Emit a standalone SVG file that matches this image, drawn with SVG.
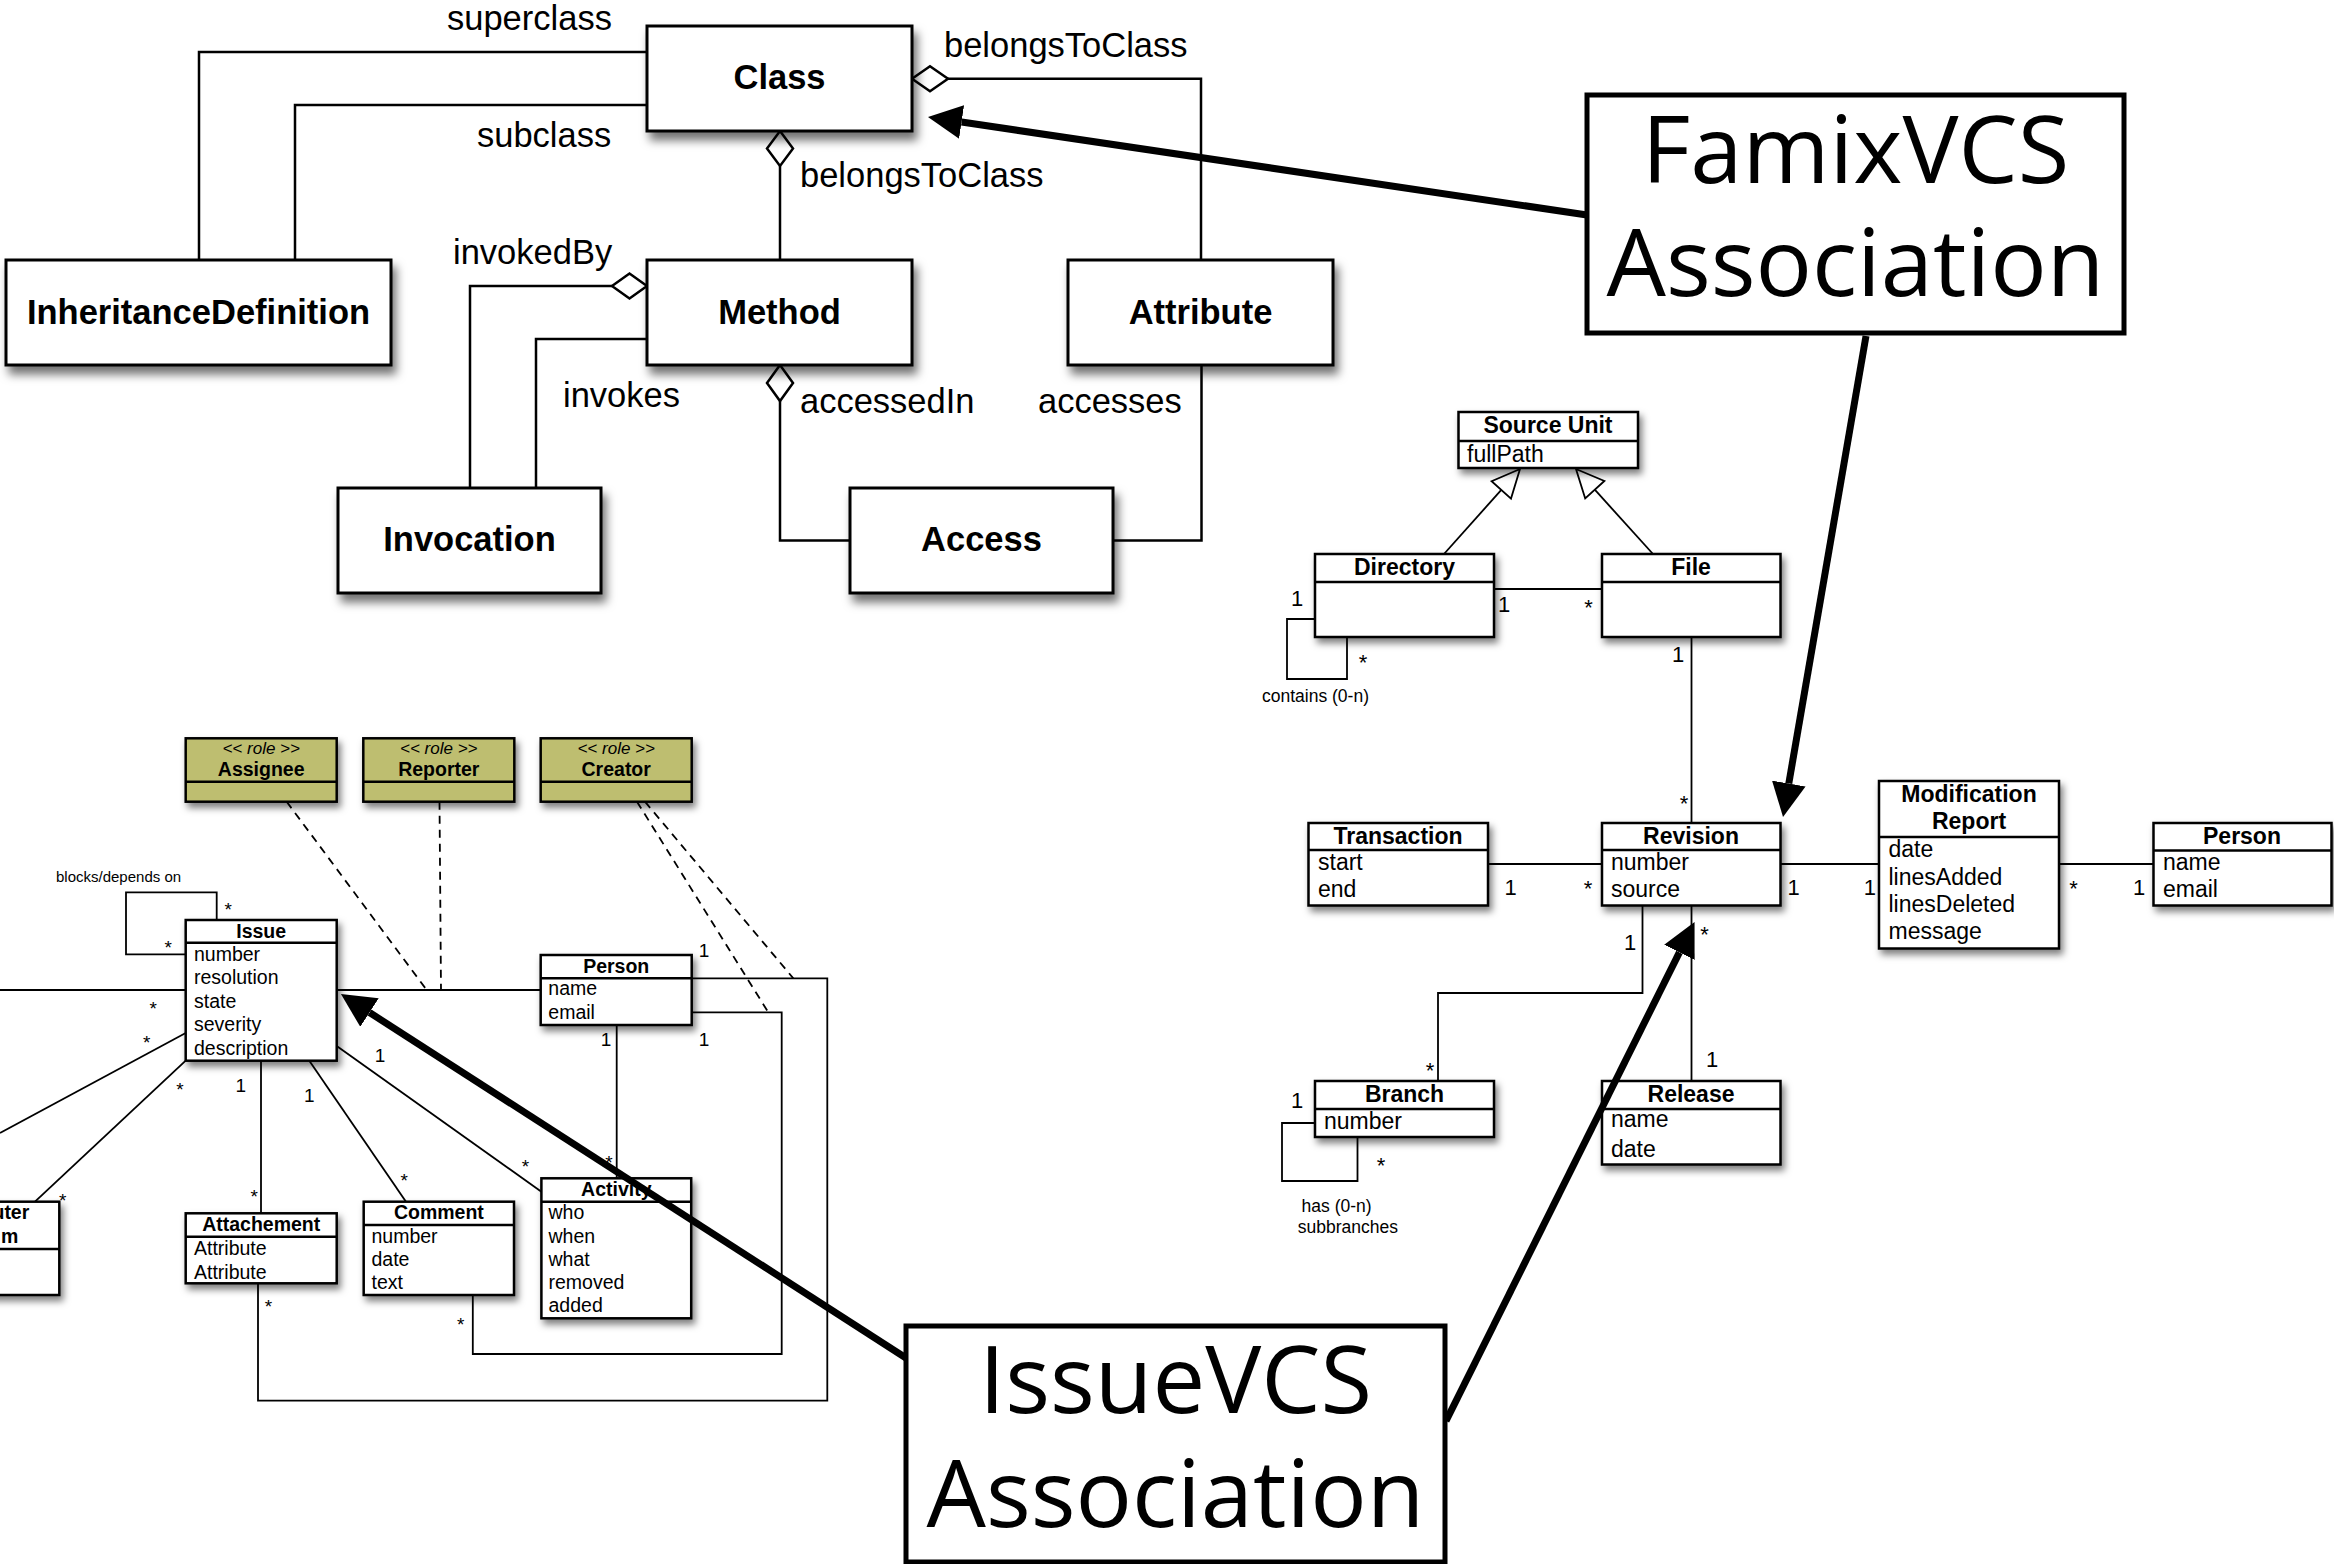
<svg xmlns="http://www.w3.org/2000/svg" width="2334" height="1564" viewBox="0 0 2334 1564">
  <style>
    .big { fill: #fff; stroke: #000; stroke-width: 3; }
    .box { fill: #fff; stroke: #000; stroke-width: 2.5; }
    .role { fill: #bebe70; stroke: #000; stroke-width: 2.5; }
    .div { stroke: #000; stroke-width: 2.5; }
    .frame { fill: #fff; stroke: #000; stroke-width: 5; }
    .conn { fill: none; stroke: #000; stroke-width: 2.5; }
    .thin { fill: none; stroke: #000; stroke-width: 1.8; }
    .dash { fill: none; stroke: #000; stroke-width: 1.8; stroke-dasharray: 8 6; }
    .dia { fill: #fff; stroke: #000; stroke-width: 2.5; }
    .tri { fill: #fff; stroke: #000; stroke-width: 1.8; }
    .thick { fill: none; stroke: #000; stroke-width: 7; }
    text { font-family: "Liberation Sans", Arial, Helvetica, sans-serif; fill: #000; }
    .fname { font-size: 34.5px; font-weight: bold; text-anchor: middle; }
    .flabel { font-size: 34.5px; }
    .rhead { font-size: 23px; font-weight: bold; text-anchor: middle; }
    .rattr { font-size: 23px; }
    .rmul { font-size: 22px; text-anchor: middle; }
    .note { font-size: 17.5px; }
    .lhead { font-size: 19.5px; font-weight: bold; text-anchor: middle; }
    .lattr { font-size: 19.5px; }
    .lmul { font-size: 19px; text-anchor: middle; }
    .stereo { font-size: 17px; font-style: italic; text-anchor: middle; }
    .huge { font-family: "Open Sans", "Noto Sans", sans-serif; font-size: 94px; text-anchor: middle; }
  </style>
  <defs>
    <filter id="shadowBig" x="-10%" y="-20%" width="130%" height="160%">
      <feDropShadow dx="4" dy="8" stdDeviation="5" flood-color="#000" flood-opacity="0.55"/>
    </filter>
    <filter id="shadowSmall" x="-10%" y="-20%" width="130%" height="160%">
      <feDropShadow dx="3" dy="5" stdDeviation="3.5" flood-color="#000" flood-opacity="0.5"/>
    </filter>
    <marker id="bigHead" viewBox="0 0 34 34" refX="0" refY="17" markerWidth="34" markerHeight="34" markerUnits="userSpaceOnUse" orient="auto">
      <path d="M0,0 L34,17 L0,34 Z" fill="#000"/>
    </marker>
  </defs>

  <!-- ===== FAMIX core connectors ===== -->
  <g id="famix-connectors">
    <path class="conn" d="M647,52 H199 V260"/>
    <path class="conn" d="M647,105 H295 V260"/>
    <path class="conn" d="M948,78.7 H1201 V260"/>
    <polygon class="dia" points="912,78.7 930,66.2 948,78.7 930,91.2"/>
    <path class="conn" d="M780,166 V260"/>
    <polygon class="dia" points="780,131 793,148.5 780,166 767,148.5"/>
    <path class="conn" d="M612,286 H470 V488"/>
    <polygon class="dia" points="647,286 629.5,273.5 612,286 629.5,298.5"/>
    <path class="conn" d="M647,339 H536 V488"/>
    <path class="conn" d="M780,401 V540.5 H850"/>
    <polygon class="dia" points="780,365 793,383 780,401 767,383"/>
    <path class="conn" d="M1113,540.5 H1201.5 V365"/>
    <text class="flabel" x="447" y="30">superclass</text>
    <text class="flabel" x="477" y="147">subclass</text>
    <text class="flabel" x="944" y="57">belongsToClass</text>
    <text class="flabel" x="800" y="187">belongsToClass</text>
    <text class="flabel" x="453" y="264">invokedBy</text>
    <text class="flabel" x="563" y="407">invokes</text>
    <text class="flabel" x="800" y="413">accessedIn</text>
    <text class="flabel" x="1038" y="413">accesses</text>
  </g>

  <!-- ===== FAMIX core entities ===== -->
  <g id="class">
    <rect class="big" x="647" y="26" width="265" height="105" filter="url(#shadowBig)"/>
    <text class="fname" x="779.5" y="89">Class</text>
  </g>
  <g id="inheritance-definition">
    <rect class="big" x="6" y="260" width="385" height="105" filter="url(#shadowBig)"/>
    <text class="fname" x="198.5" y="324">InheritanceDefinition</text>
  </g>
  <g id="method">
    <rect class="big" x="647" y="260" width="265" height="105" filter="url(#shadowBig)"/>
    <text class="fname" x="779.5" y="324">Method</text>
  </g>
  <g id="attribute">
    <rect class="big" x="1068" y="260" width="265" height="105" filter="url(#shadowBig)"/>
    <text class="fname" x="1200.5" y="324">Attribute</text>
  </g>
  <g id="invocation">
    <rect class="big" x="338" y="488" width="263" height="105" filter="url(#shadowBig)"/>
    <text class="fname" x="469.5" y="551">Invocation</text>
  </g>
  <g id="access">
    <rect class="big" x="850" y="488" width="263" height="105" filter="url(#shadowBig)"/>
    <text class="fname" x="981.5" y="551">Access</text>
  </g>

  <!-- ===== Version control model connectors ===== -->
  <g id="vcs-connectors">
    <path class="thin" d="M1444,554 L1501.3,489.9"/>
    <polygon class="tri" points="1520,469 1511,498.6 1491.6,481.2"/>
    <path class="thin" d="M1653,554 L1594.8,489.7"/>
    <polygon class="tri" points="1576,469 1604.4,481 1585.2,498.4"/>
    <path class="thin" d="M1494,589 H1602"/>
    <path class="thin" d="M1315,619 H1287 V679 H1347 V637"/>
    <path class="thin" d="M1691.5,637 V823"/>
    <path class="thin" d="M1488,864 H1602"/>
    <path class="thin" d="M1642.5,905 V993 H1438 V1081"/>
    <path class="thin" d="M1315,1123 H1282 V1181 H1357.5 V1137"/>
    <path class="thin" d="M1691.5,905 V1081"/>
    <path class="thin" d="M1780,864 H1879"/>
    <path class="thin" d="M2059,864 H2153.5"/>
    <text class="rmul" x="1504" y="612">1</text>
    <text class="rmul" x="1588.6" y="615">*</text>
    <text class="rmul" x="1297" y="606">1</text>
    <text class="rmul" x="1363" y="670">*</text>
    <text class="note" x="1262" y="702">contains (0-n)</text>
    <text class="rmul" x="1678" y="662">1</text>
    <text class="rmul" x="1684" y="811">*</text>
    <text class="rmul" x="1510.5" y="895">1</text>
    <text class="rmul" x="1588" y="896">*</text>
    <text class="rmul" x="1630" y="950">1</text>
    <text class="rmul" x="1430" y="1078">*</text>
    <text class="rmul" x="1297" y="1108">1</text>
    <text class="rmul" x="1381" y="1173">*</text>
    <text class="note" x="1301.6" y="1212">has (0-n)</text>
    <text class="note" x="1297.7" y="1233">subbranches</text>
    <text class="rmul" x="1704.5" y="942">*</text>
    <text class="rmul" x="1712" y="1067">1</text>
    <text class="rmul" x="1793.7" y="895">1</text>
    <text class="rmul" x="1869.8" y="895">1</text>
    <text class="rmul" x="2073.5" y="896">*</text>
    <text class="rmul" x="2139" y="895">1</text>
  </g>

  <!-- ===== Version control model entities ===== -->
  <g id="source-unit">
    <rect class="box" x="1458.5" y="412" width="179.5" height="56" filter="url(#shadowSmall)"/>
    <line class="div" x1="1458.5" y1="441" x2="1638" y2="441"/>
    <text class="rhead" x="1548" y="433">Source Unit</text>
    <text class="rattr" x="1467" y="462">fullPath</text>
  </g>
  <g id="directory">
    <rect class="box" x="1315" y="554" width="179" height="83" filter="url(#shadowSmall)"/>
    <line class="div" x1="1315" y1="582" x2="1494" y2="582"/>
    <text class="rhead" x="1404.5" y="575">Directory</text>
  </g>
  <g id="file">
    <rect class="box" x="1602" y="554" width="178.5" height="83" filter="url(#shadowSmall)"/>
    <line class="div" x1="1602" y1="582" x2="1780.5" y2="582"/>
    <text class="rhead" x="1691" y="575">File</text>
  </g>
  <g id="transaction">
    <rect class="box" x="1308.5" y="823" width="179.5" height="82.5" filter="url(#shadowSmall)"/>
    <line class="div" x1="1308.5" y1="850" x2="1488" y2="850"/>
    <text class="rhead" x="1398" y="844">Transaction</text>
    <text class="rattr" x="1318" y="870">start</text>
    <text class="rattr" x="1318" y="896.5">end</text>
  </g>
  <g id="revision">
    <rect class="box" x="1602" y="823" width="178.5" height="82.5" filter="url(#shadowSmall)"/>
    <line class="div" x1="1602" y1="850" x2="1780.5" y2="850"/>
    <text class="rhead" x="1691" y="844">Revision</text>
    <text class="rattr" x="1611" y="870">number</text>
    <text class="rattr" x="1611" y="896.5">source</text>
  </g>
  <g id="modification-report">
    <rect class="box" x="1879" y="781" width="180" height="167.5" filter="url(#shadowSmall)"/>
    <line class="div" x1="1879" y1="837" x2="2059" y2="837"/>
    <text class="rhead" x="1969" y="802">Modification</text>
    <text class="rhead" x="1969" y="829">Report</text>
    <text class="rattr" x="1888.5" y="857">date</text>
    <text class="rattr" x="1888.5" y="884.5">linesAdded</text>
    <text class="rattr" x="1888.5" y="912">linesDeleted</text>
    <text class="rattr" x="1888.5" y="939">message</text>
  </g>
  <g id="vcs-person">
    <rect class="box" x="2153.5" y="823" width="178" height="82.5" filter="url(#shadowSmall)"/>
    <line class="div" x1="2153.5" y1="850.5" x2="2331.5" y2="850.5"/>
    <text class="rhead" x="2242" y="844">Person</text>
    <text class="rattr" x="2163" y="870">name</text>
    <text class="rattr" x="2163" y="896.5">email</text>
  </g>
  <g id="branch">
    <rect class="box" x="1315" y="1081" width="179" height="56" filter="url(#shadowSmall)"/>
    <line class="div" x1="1315" y1="1109" x2="1494" y2="1109"/>
    <text class="rhead" x="1404.5" y="1102">Branch</text>
    <text class="rattr" x="1324" y="1129">number</text>
  </g>
  <g id="release">
    <rect class="box" x="1602" y="1081" width="178.5" height="83.5" filter="url(#shadowSmall)"/>
    <line class="div" x1="1602" y1="1109" x2="1780.5" y2="1109"/>
    <text class="rhead" x="1691" y="1102">Release</text>
    <text class="rattr" x="1611" y="1127">name</text>
    <text class="rattr" x="1611" y="1156.5">date</text>
  </g>

  <!-- ===== Issue tracker model connectors ===== -->
  <g id="issue-connectors">
    <path class="thin" d="M216.7,920 V892.3 H126 V954.3 H185.7"/>
    <path class="thin" d="M0,990 H185.7"/>
    <path class="thin" d="M336.7,990 H540.7"/>
    <path class="thin" d="M185.7,1033 L0,1133"/>
    <path class="thin" d="M185.7,1060.7 L35,1201.7"/>
    <path class="thin" d="M261,1060.7 V1213.3"/>
    <path class="thin" d="M309.3,1060.7 L406,1201.7"/>
    <path class="thin" d="M336.7,1046 L541.4,1191.7"/>
    <path class="thin" d="M616.7,1025 V1178.3"/>
    <path class="thin" d="M691.7,978.3 H827.3 V1400.7 H258 V1283.3"/>
    <path class="thin" d="M691.7,1012.3 H781.7 V1354 H472.8 V1295"/>
    <path class="dash" d="M286.7,801.7 L426.7,990"/>
    <path class="dash" d="M439.5,801.7 L441,990"/>
    <path class="dash" d="M637,801.7 L768.3,1012.3"/>
    <path class="dash" d="M645,801.7 L793.3,978.3"/>
    <text class="note" x="56" y="882" style="font-size:15px">blocks/depends on</text>
    <text class="lmul" x="228.3" y="916">*</text>
    <text class="lmul" x="168.3" y="954">*</text>
    <text class="lmul" x="153.3" y="1015">*</text>
    <text class="lmul" x="146.7" y="1049">*</text>
    <text class="lmul" x="180" y="1096">*</text>
    <text class="lmul" x="62.7" y="1207">*</text>
    <text class="lmul" x="240.7" y="1092">1</text>
    <text class="lmul" x="254.3" y="1203">*</text>
    <text class="lmul" x="309.3" y="1102">1</text>
    <text class="lmul" x="404.3" y="1187">*</text>
    <text class="lmul" x="380" y="1062">1</text>
    <text class="lmul" x="525.5" y="1173">*</text>
    <text class="lmul" x="704" y="957">1</text>
    <text class="lmul" x="704" y="1046">1</text>
    <text class="lmul" x="606" y="1046">1</text>
    <text class="lmul" x="609" y="1169">*</text>
    <text class="lmul" x="268.5" y="1313">*</text>
    <text class="lmul" x="460.8" y="1331">*</text>
  </g>

  <!-- ===== Issue tracker model entities ===== -->
  <g id="assignee">
    <rect class="role" x="185.7" y="738.3" width="151" height="63.4" filter="url(#shadowSmall)"/>
    <line class="div" x1="185.7" y1="781.7" x2="336.7" y2="781.7"/>
    <text class="stereo" x="261.2" y="754">&lt;&lt; role &gt;&gt;</text>
    <text class="lhead" x="261.2" y="775.5">Assignee</text>
  </g>
  <g id="reporter">
    <rect class="role" x="363.3" y="738.3" width="151" height="63.4" filter="url(#shadowSmall)"/>
    <line class="div" x1="363.3" y1="781.7" x2="514.3" y2="781.7"/>
    <text class="stereo" x="438.8" y="754">&lt;&lt; role &gt;&gt;</text>
    <text class="lhead" x="438.8" y="775.5">Reporter</text>
  </g>
  <g id="creator">
    <rect class="role" x="540.7" y="738.3" width="151" height="63.4" filter="url(#shadowSmall)"/>
    <line class="div" x1="540.7" y1="781.7" x2="691.7" y2="781.7"/>
    <text class="stereo" x="616.2" y="754">&lt;&lt; role &gt;&gt;</text>
    <text class="lhead" x="616.2" y="775.5">Creator</text>
  </g>
  <g id="issue">
    <rect class="box" x="185.7" y="920" width="151" height="140.7" filter="url(#shadowSmall)"/>
    <line class="div" x1="185.7" y1="942.7" x2="336.7" y2="942.7"/>
    <text class="lhead" x="261.2" y="937.5">Issue</text>
    <text class="lattr" x="194" y="960.5">number</text>
    <text class="lattr" x="194" y="984">resolution</text>
    <text class="lattr" x="194" y="1007.5">state</text>
    <text class="lattr" x="194" y="1031">severity</text>
    <text class="lattr" x="194" y="1054.5">description</text>
  </g>
  <g id="issue-person">
    <rect class="box" x="540.7" y="955" width="151" height="70" filter="url(#shadowSmall)"/>
    <line class="div" x1="540.7" y1="978.3" x2="691.7" y2="978.3"/>
    <text class="lhead" x="616.2" y="972.5">Person</text>
    <text class="lattr" x="548.3" y="995">name</text>
    <text class="lattr" x="548.3" y="1019">email</text>
  </g>
  <g id="platform">
    <rect class="box" x="-100" y="1201.7" width="159.3" height="93.3" filter="url(#shadowSmall)"/>
    <line class="div" x1="-100" y1="1249" x2="59.3" y2="1249"/>
    <text class="lhead" x="29.3" y="1219" style="text-anchor:end">uter</text>
    <text class="lhead" x="18.3" y="1242.7" style="text-anchor:end">m</text>
  </g>
  <g id="attachement">
    <rect class="box" x="185.7" y="1213.3" width="151" height="70" filter="url(#shadowSmall)"/>
    <line class="div" x1="185.7" y1="1236.7" x2="336.7" y2="1236.7"/>
    <text class="lhead" x="261.2" y="1230.5">Attachement</text>
    <text class="lattr" x="194" y="1255">Attribute</text>
    <text class="lattr" x="194" y="1278.5">Attribute</text>
  </g>
  <g id="comment">
    <rect class="box" x="363.7" y="1201.7" width="150.3" height="93.3" filter="url(#shadowSmall)"/>
    <line class="div" x1="363.7" y1="1225" x2="514" y2="1225"/>
    <text class="lhead" x="438.9" y="1219">Comment</text>
    <text class="lattr" x="371.5" y="1242.5">number</text>
    <text class="lattr" x="371.5" y="1265.5">date</text>
    <text class="lattr" x="371.5" y="1288.5">text</text>
  </g>
  <g id="activity">
    <rect class="box" x="541.4" y="1178.3" width="149.8" height="140" filter="url(#shadowSmall)"/>
    <line class="div" x1="541.4" y1="1201.7" x2="691.2" y2="1201.7"/>
    <text class="lhead" x="616.3" y="1195.5">Activity</text>
    <text class="lattr" x="548.5" y="1219">who</text>
    <text class="lattr" x="548.5" y="1242.5">when</text>
    <text class="lattr" x="548.5" y="1265.5">what</text>
    <text class="lattr" x="548.5" y="1288.5">removed</text>
    <text class="lattr" x="548.5" y="1311.5">added</text>
  </g>

  <!-- ===== Association callouts ===== -->
  <g id="famixvcs-association">
    <rect class="frame" x="1587" y="95" width="537" height="238"/>
    <text class="huge" x="1855.5" y="183">FamixVCS</text>
    <text class="huge" x="1855.5" y="296">Association</text>
  </g>
  <g id="issuevcs-association">
    <rect class="frame" x="906" y="1326" width="539" height="236"/>
    <text class="huge" x="1175.5" y="1413">IssueVCS</text>
    <text class="huge" x="1175.5" y="1527">Association</text>
  </g>

  <!-- ===== Callout arrows ===== -->
  <g id="callout-arrows">
    <path class="thick" d="M1587,215 L961.6,122" marker-end="url(#bigHead)"/>
    <path class="thick" d="M1866,336 L1788.8,783.5" marker-end="url(#bigHead)"/>
    <path class="thick" d="M906,1358 L369.5,1012.5" marker-end="url(#bigHead)"/>
    <path class="thick" d="M1446,1421 L1679.4,952.4" marker-end="url(#bigHead)"/>
  </g>
</svg>
